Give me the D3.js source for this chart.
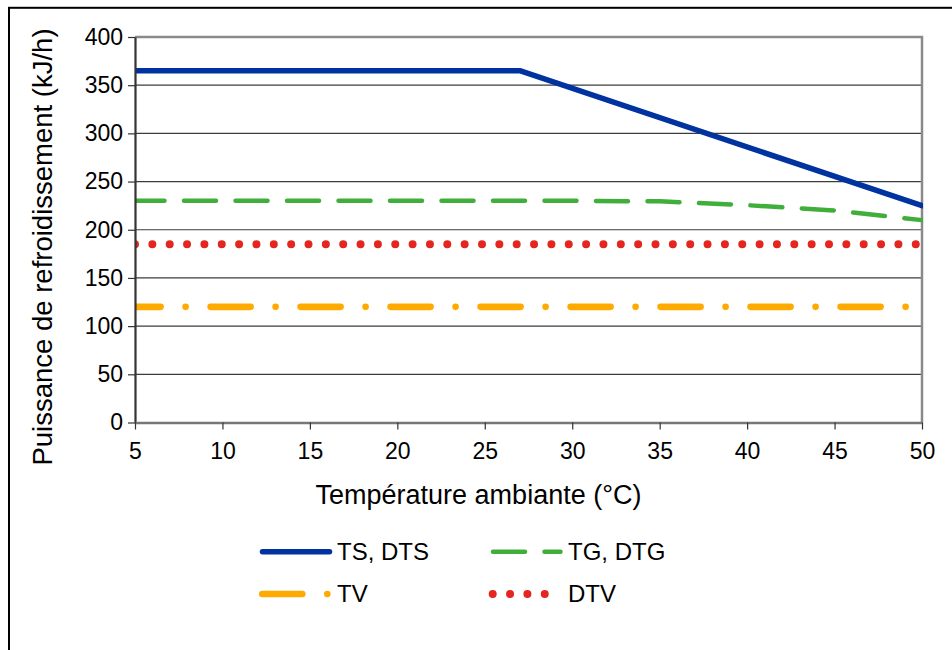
<!DOCTYPE html>
<html>
<head>
<meta charset="utf-8">
<script src="https://cdn.jsdelivr.net/npm/d3@7"></script>
<style>
  body { margin: 0; background: #fff; }
  svg text { font-family: "Liberation Sans", Arial, sans-serif; fill: #000; }
</style>
</head>
<body>
<div id="chart"></div>
<script>
// data
var tsX = [5, 27, 50];
var tsY = [365, 365, 225];
var tgX = [5, 10, 15, 20, 25, 30, 35, 40, 45, 50];
var tgY = [230, 230, 230, 230, 230, 230, 229.5, 225.5, 220, 210];
var tvX = [5, 50];
var tvY = [120, 120];
var dtvX = [5, 50];
var dtvY = [185, 185];
var xTicks = [5, 10, 15, 20, 25, 30, 35, 40, 45, 50];
var yTicks = [0, 50, 100, 150, 200, 250, 300, 350, 400];
var legendLabels = ["TS, DTS", "TG, DTG", "TV", "DTV"];

var W = 952, H = 650;
var m = {left: 135, top: 37, right: 30, bottom: 227.5};
var pw = W - m.left - m.right, ph = H - m.top - m.bottom;

var svg = d3.select("#chart").append("svg")
	.attr("width", W).attr("height", H);

// outer frame (only top/left visible in the picture)
svg.append("rect")
	.attr("x", 9).attr("y", 7.8)
	.attr("width", 1000).attr("height", 800)
	.attr("fill", "none").attr("stroke", "#000").attr("stroke-width", 2);

var x = d3.scaleLinear().domain([5, 50]).range([0, pw]);
var y = d3.scaleLinear().domain([0, 400]).range([ph, 0]);

var g = svg.append("g").attr("transform", "translate(" + m.left + "," + m.top + ")");

// gridlines
g.selectAll("line.grid")
	.data(yTicks.filter(function(d) { return d > 0 && d < 400; }))
	.enter().append("line")
	.attr("class", "grid")
	.attr("x1", 0).attr("x2", pw)
	.attr("y1", function(d) { return y(d); })
	.attr("y2", function(d) { return y(d); })
	.attr("stroke", "#3c3c3c").attr("stroke-width", 1.2);

// plot border top/right
g.append("path")
	.attr("d", "M0," + y(400) + "H" + pw + "V" + ph)
	.attr("fill", "none").attr("stroke", "#8a8a8a").attr("stroke-width", 2.5);

// series
var lines = [
	{xs: tsX, ys: tsY, color: "#0033a0", width: 5.5, dash: null, offset: 0},
	{xs: tgX, ys: tgY, color: "#3fae3a", width: 4.5, dash: "32,19.5", offset: 2.5},
	{xs: tvX, ys: tvY, color: "#ffaa00", width: 6.6, dash: "40,25,0,25", offset: 14.4},
	{xs: dtvX, ys: dtvY, color: "#e3261f", width: 8, dash: "0,17.35", offset: 0}
];

var line = d3.line()
	.x(function(d) { return x(d[0]); })
	.y(function(d) { return y(d[1]); });

g.append("clipPath").attr("id", "clip")
	.append("rect").attr("x", 0).attr("y", -10).attr("width", pw + 1).attr("height", ph + 10);

var series = g.append("g").attr("clip-path", "url(#clip)");
series.selectAll("path")
	.data(lines.slice().reverse())
	.enter().append("path")
	.attr("d", function(s) { return line(d3.zip(s.xs, s.ys)); })
	.attr("fill", "none")
	.attr("stroke", function(s) { return s.color; })
	.attr("stroke-width", function(s) { return s.width; })
	.attr("stroke-dasharray", function(s) { return s.dash; })
	.attr("stroke-dashoffset", function(s) { return s.offset; })
	.attr("stroke-linecap", "round")
	.attr("stroke-linejoin", "round");

// axes
var yAxis = d3.axisLeft(y).tickValues(yTicks).tickSize(7).tickPadding(5).tickSizeOuter(0);
var yg = g.append("g").call(yAxis);
yg.select(".domain").attr("stroke", "#333").attr("stroke-width", 2.2);
yg.selectAll(".tick line").attr("stroke", "#333").attr("stroke-width", 1.2);
yg.selectAll("text").attr("font-size", "23px").attr("font-family", null);

var xAxis = d3.axisBottom(x).tickValues(xTicks).tickSize(7).tickPadding(13).tickSizeOuter(0);
var xg = g.append("g").attr("transform", "translate(0," + ph + ")").call(xAxis);
xg.select(".domain").attr("stroke", "#777").attr("stroke-width", 2.5);
xg.selectAll(".tick line").attr("stroke", "#333").attr("stroke-width", 1.2);
xg.selectAll("text").attr("font-size", "23px").attr("font-family", null);

// axis titles
svg.append("text")
	.attr("x", m.left + pw / 2 - 50).attr("y", 504)
	.attr("text-anchor", "middle").attr("font-size", "27px")
	.text("Température ambiante (°C)");

svg.append("text")
	.attr("transform", "translate(52," + 247 + ") rotate(-90)")
	.attr("text-anchor", "middle").attr("font-size", "27.5px")
	.text("Puissance de refroidissement (kJ/h)");

// legend
var legPos = [
	{x1: 262.5, x2: 329.5, y: 551.7, tx: 337},
	{x1: 493, x2: 560.5, y: 551.7, tx: 568},
	{x1: 262.3, x2: 328.3, y: 594, tx: 337},
	{x1: 492.7, x2: 545.5, y: 594, tx: 568}
];
var leg = svg.append("g").selectAll("g")
	.data(lines)
	.enter().append("g");
leg.append("line")
	.attr("x1", function(d, i) { return legPos[i].x1; })
	.attr("x2", function(d, i) { return legPos[i].x2; })
	.attr("y1", function(d, i) { return legPos[i].y; })
	.attr("y2", function(d, i) { return legPos[i].y; })
	.attr("stroke", function(s) { return s.color; })
	.attr("stroke-width", function(s) { return s.width; })
	.attr("stroke-dasharray", function(s) { return s.dash; })
	.attr("stroke-linecap", "round");
leg.append("text")
	.attr("x", function(d, i) { return legPos[i].tx; })
	.attr("y", function(d, i) { return legPos[i].y + 8; })
	.attr("font-size", "24px")
	.text(function(d, i) { return legendLabels[i]; });
</script>
</body>
</html>
